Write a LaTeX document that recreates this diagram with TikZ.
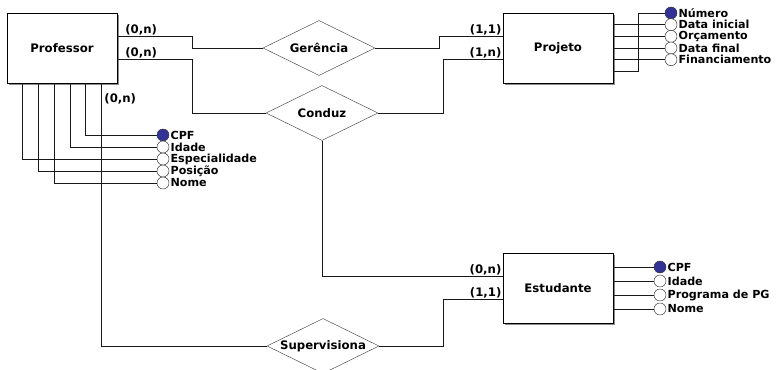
\documentclass[tikz,border=0pt]{standalone}
\usepackage{fontspec}
\setmainfont{DejaVu Sans}
\usetikzlibrary{shapes.geometric, shadows}

\definecolor{keyblue}{RGB}{50,50,150}
\tikzstyle{entity} = [rectangle, minimum width=3.3cm, minimum height=2.1cm, text centered, draw=black, fill=white, font=\bfseries, drop shadow={shadow xshift=0.05cm, shadow yshift=-0.05cm, fill=black!45, opacity=1}]
\tikzstyle{relation} = [diamond, aspect=2.04, minimum width=3.36cm, minimum height=1.65cm, inner sep=0pt, draw=black!70, fill=white, font=\bfseries]
\tikzstyle{attr} = [circle, minimum size=0.36cm, inner sep=0pt, draw=black!80, fill=white, label distance=0.5pt]
\tikzstyle{keyattr} = [attr, fill=keyblue]
\tikzstyle{card} = [font=\bfseries, inner sep=1pt]
\tikzstyle{line} = [draw=black!90]
\tikzset{every label/.style={font=\fontsize{9.5}{10}\selectfont\bfseries, inner sep=1pt}}

\begin{document}
\begin{tikzpicture}[x=0.03cm, y=-0.03cm, font=\fontsize{9}{10}\selectfont]
\useasboundingbox (0,0) rectangle (776,370);

\node (prof) [entity] at (62,48) {Professor};
\node (proj) [entity] at (558,48) {Projeto};
\node (est) [entity] at (558,288) {Estudante};

\node (ger) [relation] at (319,48) {Gerência};
\node (cond) [relation] at (322,113) {Conduz};
\node (sup) [relation] at (323,346) {Supervisiona};

% atributos do professor
\node (pcpf) [keyattr, label=right:CPF] at (163,135) {};
\node (pidade) [attr, node distance=0.36cm, below of=pcpf, label=right:Idade] {};
\node (pesp) [attr, node distance=0.36cm, below of=pidade, label=right:Especialidade] {};
\node (ppos) [attr, node distance=0.36cm, below of=pesp, label=right:Posição] {};
\node (pnome) [attr, node distance=0.36cm, below of=ppos, label=right:Nome] {};

% atributos do projeto
\node (jnum) [keyattr, label=right:Número] at (671,13) {};
\node (jini) [attr, node distance=0.35cm, below of=jnum, label=right:Data inicial] {};
\node (jorc) [attr, node distance=0.35cm, below of=jini, label=right:Orçamento] {};
\node (jfim) [attr, node distance=0.35cm, below of=jorc, label=right:Data final] {};
\node (jfin) [attr, node distance=0.35cm, below of=jfim, label=right:Financiamento] {};

% atributos do estudante
\node (ecpf) [keyattr, label=right:CPF] at (660,267) {};
\node (eidade) [attr, node distance=0.42cm, below of=ecpf, label=right:Idade] {};
\node (eprog) [attr, node distance=0.42cm, below of=eidade, label=right:Programa de PG] {};
\node (enome) [attr, node distance=0.42cm, below of=eprog, label=right:Nome] {};

% Relacionamentos
\draw [line] ([yshift=0.35cm]prof.east) node[card, anchor=south west, xshift=0.2cm] {(0,n)} -- ++(2.25cm,0) |- (ger);
\draw [line] ([yshift=-0.35cm]prof.east) node[card, anchor=south west, xshift=0.2cm] {(0,n)} -- ++(2.25cm,0) |- (cond);
\draw [line] (ger.east) -- ++(1.92cm,0) |- ([yshift=0.35cm]proj.west) node[card, anchor=south east] {(1,1)};
\draw [line] (cond.east) -- ++(1.95cm,0) |- ([yshift=-0.35cm]proj.west) node[card, anchor=south east] {(1,n)};
\draw [line] (cond.south) |- ([yshift=0.35cm]est.west) node[card, anchor=south east] {(0,n)};
\draw [line] ([xshift=1.18cm]prof.south) node[card, anchor=north west, xshift=0.05cm, yshift=-0.27cm] {(0,n)} |- (sup);
\draw [line] (sup.east) -- ++(1.92cm,0) |- ([yshift=-0.35cm]est.west) node[card, anchor=south east] {(1,1)};

% Atributos
\draw [line] ([xshift=0.71cm]prof.south) |- (pcpf);
\draw [line] ([xshift=0.24cm]prof.south) |- (pidade);
\draw [line] ([xshift=-1.18cm]prof.south) |- (pesp);
\draw [line] ([xshift=-0.71cm]prof.south) |- (ppos);
\draw [line] ([xshift=-0.24cm]prof.south) |- (pnome);

\draw [line] ([yshift=0.7cm]proj.east) -- ++(0.75cm,0) |- (jini);
\draw [line] ([yshift=0.35cm]proj.east) -- ++(0.75cm,0) |- (jorc);
\draw [line] (proj.east) -- ++(0.75cm,0) |- (jfim);
\draw [line] ([yshift=-0.35cm]proj.east) -- ++(0.75cm,0) |- (jfin);
\draw [line] ([yshift=-0.7cm]proj.east) -- ++(0.75cm,0) |- (jnum);

\draw [line] ([yshift=0.63cm]est.east) -- ++(0.57cm,0) |- (ecpf);
\draw [line] ([yshift=0.21cm]est.east) -- ++(0.57cm,0) |- (eidade);
\draw [line] ([yshift=-0.21cm]est.east) -- ++(0.57cm,0) |- (eprog);
\draw [line] ([yshift=-0.63cm]est.east) -- ++(0.57cm,0) |- (enome);

\end{tikzpicture}
\end{document}
